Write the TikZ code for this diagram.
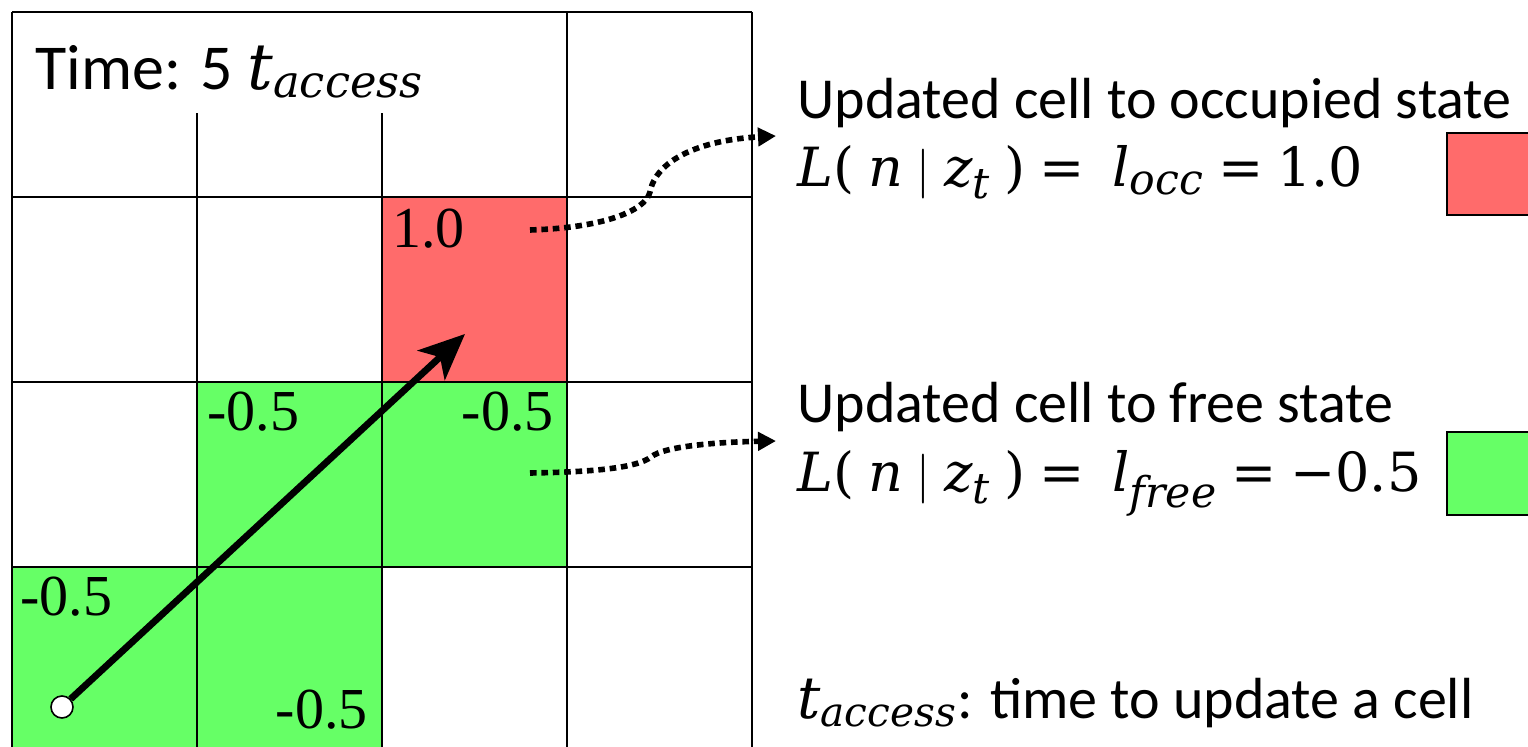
\documentclass[tikz,border=0pt]{standalone}
\usepackage{amsmath}
\usepackage{fontspec}
\setmainfont{Carlito}
\newfontfamily\tnr{Liberation Serif}
\newfontfamily\mathf{DejaVu Serif}
\newcommand\mv[1]{\text{\mathf\itshape #1}}
\newcommand\mn[1]{\text{\mathf #1}}
\newcommand\meq{\mathrel{\mn{=}}}
\DeclareMathSizes{27}{27}{21.3}{15.5}
\usetikzlibrary{arrows.meta}
\definecolor{occ}{RGB}{255,107,107}
\definecolor{freec}{RGB}{102,255,102}
\begin{document}
\begin{tikzpicture}[x=0.5pt,y=-0.5pt,
  gridline/.style={line width=0.8pt,black},
  cellval/.style={inner sep=0pt,anchor=base west,font=\tnr\fontsize{29}{34}\selectfont},
  cellvalr/.style={inner sep=0pt,anchor=base east,font=\tnr\fontsize{29}{34}\selectfont},
  legtext/.style={inner sep=0pt,anchor=base west,font=\fontsize{29}{35}\selectfont},
  formula/.style={inner sep=0pt,anchor=base west,font=\fontsize{27}{32}\selectfont},
  dotconn/.style={line width=2.8pt,dash pattern=on 3.3pt off 2.4pt,-{Triangle[length=9pt,width=9pt]}},
  legbox/.style={line width=0.6pt,draw=black}]
\useasboundingbox (0,0) rectangle (1528,747);
\fill[white] (0,0) rectangle (1528,747);
% cell fills
\fill[occ] (382,197) rectangle (567,382);
\fill[freec] (197,382) rectangle (567,567);
\fill[freec] (12,567) rectangle (382,752);
% grid
\foreach \x in {12,197,382,567,752} \draw[gridline] (\x,12) -- (\x,752);
\foreach \y in {12,197,382,567} \draw[gridline] (12,\y) -- (752,\y);
% time label box
\fill[white] (13,13) rectangle (420,113);
\node (time) [legtext,font=\fontsize{32}{38}\selectfont] at (35,90) {Time: 5 $\mv{t}_{\mv{access}}$};
% cell values
\node (v1) [cellval] at (392,248) {1.0};
\node (v2) [cellval] at (207,431) {-0.5};
\node (v3) [cellvalr] at (554,431) {-0.5};
\node (v4) [cellval] at (20,616) {-0.5};
\node (v5) [cellvalr] at (368,729) {-0.5};
% ray
\node (start) [circle,draw=black,fill=white,line width=0.8pt,minimum size=11pt,inner sep=0pt] at (62,707) {};
\coordinate (hit) at (465,334);
\draw[line width=3.4pt,-{Stealth[length=23pt,width=20pt,inset=6pt]}] (start) -- (hit);
% legend texts
\node (occt) [legtext] at (797,119) {Updated cell to occupied state};
\node (occf) [formula] at (797,187) {$\mv{L}\mn{(}\;\mv{n}\mid\mv{z}_{\mv{t}}\;\mn{)}\meq\;\mv{l}_{\mv{occ}}\meq\mn{1.0}$};
\node (freet) [legtext] at (797,423) {Updated cell to free state};
\node (freef) [formula] at (797,492) {$\mv{L}\mn{(}\;\mv{n}\mid\mv{z}_{\mv{t}}\;\mn{)}\meq\;\mv{l}_{\mv{free}}\meq\mn{\symbol{"2212}0.5}$};
\node (tacc) [legtext] at (797,719) {$\mv{t}_{\mv{access}}$: time to update a cell};
% legend boxes
\draw[legbox,fill=occ] (1447,133) rectangle (1540,215);
\draw[legbox,fill=freec] (1447,432) rectangle (1540,515);
% dotted connectors
\coordinate (s1) at (530,230);
\coordinate (e1) at (776,136);
\coordinate (s2) at (530,473);
\coordinate (e2) at (776,441);
\draw[dotconn] (s1) .. controls (600,228) and (645,212) .. (650,192) .. controls (656,160) and (700,140) .. (e1);
\draw[dotconn] (s2) .. controls (600,472) and (638,467) .. (651,457) .. controls (664,446) and (720,442) .. (e2);
\end{tikzpicture}
\end{document}
